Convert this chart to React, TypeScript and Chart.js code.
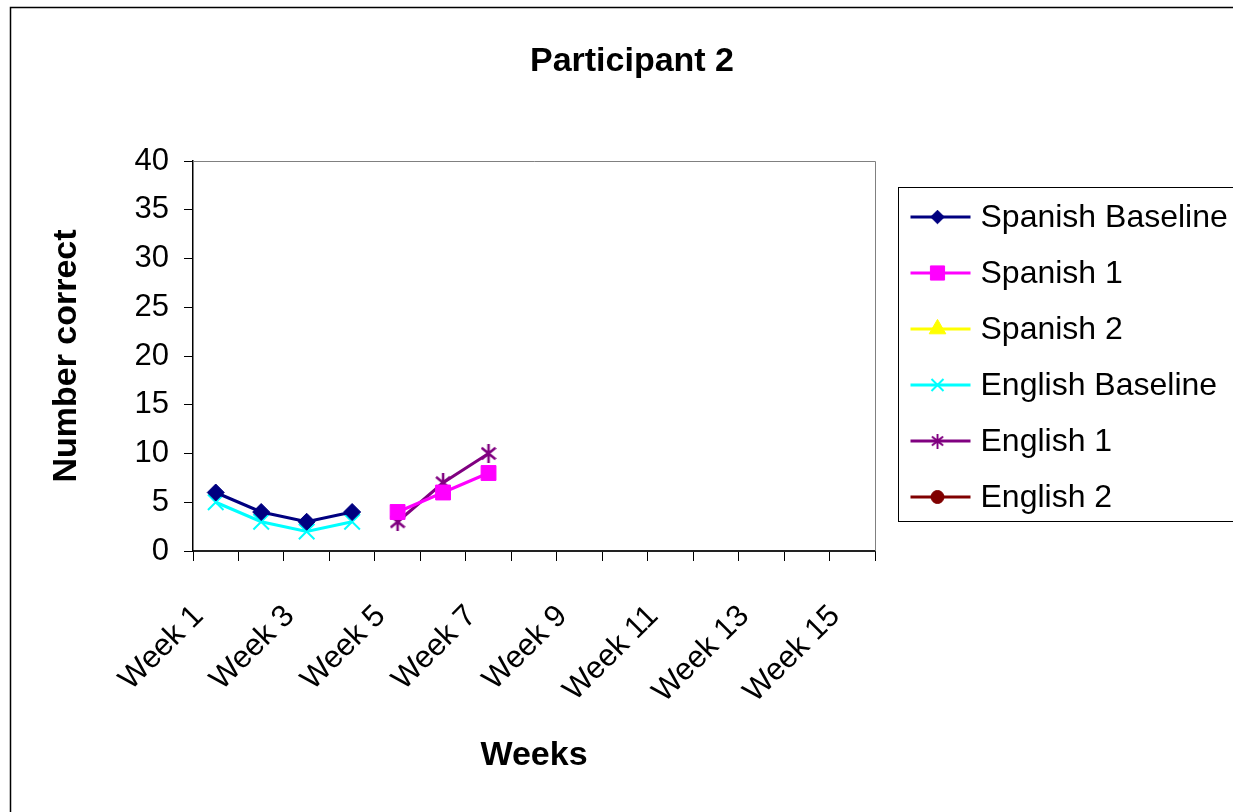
import React, { useEffect, useRef } from 'react';
import { Chart, registerables } from 'chart.js';
import { drawPoint } from 'chart.js/helpers';

Chart.register(...registerables);

const FONT = "'Liberation Sans', Arial, Helvetica, sans-serif";

const chartTitle = 'Participant 2';
const xAxisTitle = 'Weeks';
const yAxisTitle = 'Number correct';

const weeks = [
  'Week 1', 'Week 2', 'Week 3', 'Week 4', 'Week 5', 'Week 6', 'Week 7', 'Week 8',
  'Week 9', 'Week 10', 'Week 11', 'Week 12', 'Week 13', 'Week 14', 'Week 15',
];

const spanishBaseline = [6, 4, 3, 4, null, null, null, null, null, null, null, null, null, null, null];
const spanish1 = [null, null, null, null, 4, 6, 8, null, null, null, null, null, null, null, null];
const spanish2 = [null, null, null, null, null, null, null, null, null, null, null, null, null, null, null];
const englishBaseline = [5, 3, 2, 3, null, null, null, null, null, null, null, null, null, null, null];
const english1 = [null, null, null, null, 3, 7, 10, null, null, null, null, null, null, null, null];
const english2 = [null, null, null, null, null, null, null, null, null, null, null, null, null, null, null];

const yMin = 0;
const yMax = 40;
const yStep = 5;

const seriesNames = ['Spanish Baseline', 'Spanish 1', 'Spanish 2', 'English Baseline', 'English 1', 'English 2'];
const seriesValues = [spanishBaseline, spanish1, spanish2, englishBaseline, english1, english2];
const seriesColors = ['#000080', '#FF00FF', '#FFFF00', '#00FFFF', '#800080', '#800000'];
const seriesMarkers = ['rectRot', 'rect', 'triangle', 'crossRot', 'asterisk', 'circle'];
const markerRadius = [8.5, 10.5, 9.6, 11, 9, 6.5];
const legendRadius = [6.8, 10, 9.6, 8.5, 7, 6.5];
const markerBorder = [1, 1, 1, 2, 2, 1];

function makeAsterisk(color: string, w: number, h: number) {
  const c = document.createElement('canvas');
  c.width = w;
  c.height = h;
  const ctx = c.getContext('2d')!;
  ctx.strokeStyle = color;
  ctx.lineWidth = 2.5;
  ctx.lineCap = 'butt';
  ctx.beginPath();
  ctx.moveTo(w / 2, 0);
  ctx.lineTo(w / 2, h);
  ctx.moveTo(1, h * 0.2);
  ctx.lineTo(w - 1, h * 0.8);
  ctx.moveTo(1, h * 0.8);
  ctx.lineTo(w - 1, h * 0.2);
  ctx.stroke();
  return c;
}

const decorPlugin = {
  id: 'decor',
  beforeDraw(chart: any) {
    const ctx = chart.ctx;
    ctx.save();
    ctx.fillStyle = '#ffffff';
    ctx.fillRect(0, 0, chart.width, chart.height);
    ctx.strokeStyle = '#000000';
    ctx.lineWidth = 1.5;
    ctx.strokeRect(10.5, 7.5, chart.width + 40, chart.height + 40);
    ctx.fillStyle = '#000000';
    ctx.font = `bold 34px ${FONT}`;
    ctx.textAlign = 'center';
    ctx.textBaseline = 'middle';
    ctx.fillText(chartTitle, 632, 62);
    ctx.restore();
  },
  beforeDatasetsDraw(chart: any) {
    const { left, top, right, bottom } = chart.chartArea;
    const ctx = chart.ctx;
    ctx.save();
    ctx.strokeStyle = '#808080';
    ctx.lineWidth = 1;
    ctx.beginPath();
    ctx.moveTo(left, top + 0.5);
    ctx.lineTo(right + 0.5, top + 0.5);
    ctx.lineTo(right + 0.5, bottom);
    ctx.stroke();
    ctx.restore();
  },
  afterDraw(chart: any) {
    const ctx = chart.ctx;
    const { right } = chart.chartArea;
    const boxX = right + 23.5;
    const boxY = 187.5;
    const boxH = 334;
    ctx.save();
    ctx.strokeStyle = '#000000';
    ctx.lineWidth = 1;
    ctx.strokeRect(boxX, boxY, 400, boxH);
    ctx.font = `32px ${FONT}`;
    ctx.textAlign = 'left';
    ctx.textBaseline = 'middle';
    chart.data.datasets.forEach((ds: any, i: number) => {
      const y = 217 + i * 56;
      const mx = boxX + 39;
      ctx.strokeStyle = ds.borderColor;
      ctx.lineWidth = 3;
      ctx.beginPath();
      ctx.moveTo(boxX + 12, y);
      ctx.lineTo(boxX + 72, y);
      ctx.stroke();
      if (typeof ds.pointStyle === 'object') {
        ctx.drawImage(ds.pointStyle, mx - 6.5, y - 7.5, 13, 15);
      } else {
        ctx.fillStyle = ds.pointBackgroundColor;
        ctx.strokeStyle = ds.pointBorderColor;
        ctx.lineWidth = ds.pointBorderWidth;
        drawPoint(ctx, {
          pointStyle: ds.pointStyle,
          radius: legendRadius[i],
          rotation: 0,
          borderWidth: ds.pointBorderWidth,
        } as any, mx, y);
      }
      ctx.fillStyle = '#000000';
      ctx.fillText(ds.label, boxX + 82, y + 1);
    });
    ctx.restore();
  },
};

export default function App() {
  const canvasRef = useRef<HTMLCanvasElement | null>(null);

  useEffect(() => {
    if (!canvasRef.current) return;
    Chart.defaults.font.family = FONT;
    Chart.defaults.color = '#000000';
    const chart = new Chart(canvasRef.current, {
      type: 'line',
      data: {
        labels: weeks,
        datasets: seriesNames.map((name, i) => ({
          label: name,
          data: seriesValues[i],
          borderColor: seriesColors[i],
          backgroundColor: seriesColors[i],
          borderWidth: 3,
          pointStyle: seriesMarkers[i] === 'asterisk' ? makeAsterisk(seriesColors[i], 16, 19) : seriesMarkers[i],
          pointRadius: markerRadius[i],
          pointHoverRadius: markerRadius[i],
          pointBackgroundColor: seriesColors[i],
          pointBorderColor: seriesColors[i],
          pointBorderWidth: markerBorder[i],
          spanGaps: false,
          tension: 0,
        })) as any,
      },
      options: {
        responsive: false,
        animation: false,
        layout: { padding: { left: 0, top: 161, right: 358, bottom: 0 } },
        plugins: {
          legend: { display: false },
          title: { display: false },
          tooltip: { enabled: false },
        },
        scales: {
          x: {
            type: 'category',
            offset: true,
            grid: {
              offset: true,
              drawOnChartArea: false,
              drawTicks: true,
              tickLength: 10,
              color: '#000000',
            },
            border: { display: true, color: '#222222', width: 2 },
            ticks: {
              autoSkip: false,
              minRotation: 45,
              maxRotation: 45,
              padding: 37,
              labelOffset: -17,
              font: { size: 31 },
              color: '#000000',
              callback: (_v: any, idx: number) => (idx % 2 === 0 ? weeks[idx] : ''),
            },
            title: {
              display: true,
              text: xAxisTitle,
              font: { size: 34, weight: 'bold' },
              color: '#000000',
              padding: { top: 0, bottom: 36 },
            },
            afterFit: (scale: any) => {
              scale.height = 261;
            },
          },
          y: {
            min: yMin,
            max: yMax,
            ticks: {
              stepSize: yStep,
              padding: 15,
              font: { size: 31 },
              color: '#000000',
            },
            grid: {
              drawOnChartArea: false,
              drawTicks: true,
              tickLength: 9,
              color: '#000000',
            },
            border: { display: true, color: '#000000', width: 1.5 },
            title: {
              display: true,
              text: yAxisTitle,
              font: { size: 34, weight: 'bold' },
              color: '#000000',
              padding: { top: 46, bottom: 0 },
            },
            afterFit: (scale: any) => {
              scale.width = 193;
            },
          },
        },
      },
      plugins: [decorPlugin],
    });
    return () => chart.destroy();
  }, []);

  return (
    <div style={{ position: 'absolute', left: 0, top: 0, width: 1233, height: 812, background: '#fff' }}>
      <canvas ref={canvasRef} width={1233} height={812} style={{ width: 1233, height: 812, display: 'block' }} />
    </div>
  );
}
